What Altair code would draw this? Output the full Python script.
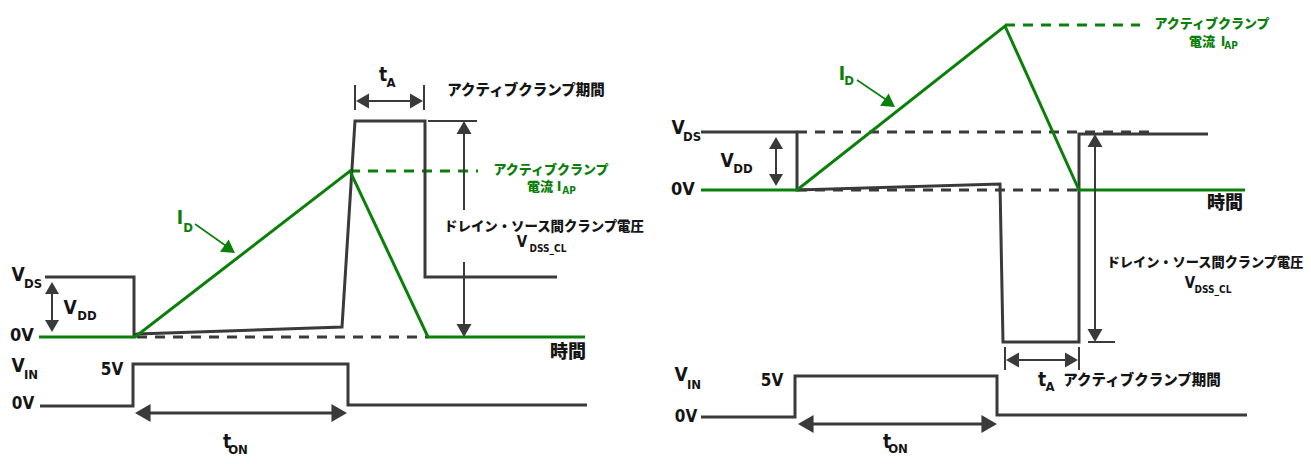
import math
import altair as alt
import pandas as pd

GREEN = "#0a800a"
DARK = "#3a3a3a"
INK = "#151515"

# ---------------- waveform vertices (time, level) ----------------
# left panel
left_id_t = [39, 135, 350, 428, 585]
left_id_v = [337, 337, 171, 337, 337]
left_iap_t = [350, 478]
left_iap_v = [171, 171]
left_vds_t = [45, 134, 134, 137, 342, 355, 425, 425, 557]
left_vds_v = [277, 277, 336, 334, 327, 121, 121, 277, 277]
left_zero_t = [137, 428]
left_zero_v = [337, 337]
left_vin_t = [40, 133, 133, 348, 348, 587]
left_vin_v = [406, 406, 364, 364, 405, 405]

# right panel
right_id_t = [701, 797, 1005, 1079, 1245]
right_id_v = [190, 190, 26, 190, 190]
right_iap_t = [1005, 1140]
right_iap_v = [25, 25]
right_vds_t = [701, 797, 797, 1000, 1003, 1079, 1079, 1208]
right_vds_v = [132, 132, 190, 184, 342, 342, 134, 134]
right_zero_t = [797, 1079]
right_zero_v = [190, 190]
right_top_t = [797, 1156]
right_top_v = [132, 132]
right_vin_t = [701, 795, 795, 997, 997, 1247]
right_vin_v = [417, 417, 376, 376, 415, 415]

# thin guide / dimension lines: (t0, v0, t1, v1)
thin_lines = [
    (428, 121, 477, 121), (464, 134, 464, 210), (464, 262, 464, 324),
    (355, 85, 355, 110), (424, 85, 424, 110), (368, 101, 411, 101),
    (52, 292, 52, 322),
    (1095, 146, 1095, 330), (1088, 342, 1115, 342),
    (1005, 347, 1005, 370), (1079, 347, 1079, 370), (1018, 360, 1066, 360),
    (776, 147, 776, 176),
]
thick_lines = [(150, 413, 332, 413), (813, 424, 982, 424)]
green_arrow_lines = [(195, 224, 229, 248), (857, 80, 888, 101)]

# arrow heads: tip t, tip v, direction angle (deg clockwise from up), width, colour
head_t = [464, 464, 356, 423, 52, 52, 235, 135, 347,
          1095, 1095, 1006, 1078, 776, 776, 895, 798, 997]
head_v = [121, 337, 101, 101, 282, 332, 253, 413, 413,
          134, 342, 360, 360, 137, 186, 107, 424, 424]
head_ang = [0, 180, 270, 90, 0, 180, 125, 270, 90,
            0, 180, 270, 90, 0, 180, 125, 270, 90]
head_w = [15, 15, 15, 15, 14, 14, 15, 18, 18,
          15, 15, 15, 15, 14, 14, 15, 18, 18]
head_col = [DARK] * 6 + [GREEN] + [DARK] * 2 + [DARK] * 6 + [GREEN] + [DARK] * 2

# Latin labels
lat_text = ["V", "DS", "0V", "V", "DD", "t", "A", "I", "D", "V", "DSS_CL", "I", "AP",
            "V", "IN", "5V", "0V", "t", "ON",
            "V", "DS", "0V", "V", "DD", "I", "D", "V", "DSS_CL", "t", "A", "I", "AP",
            "V", "IN", "5V", "0V", "t", "ON"]
lat_t = [18, 33, 22, 70, 87, 383, 391, 180, 188, 522, 548, 559, 569,
         18, 31, 112, 23, 227, 238,
         678, 692, 683, 727, 743, 842, 849, 1190, 1213, 1042, 1050, 1223, 1231,
         681, 694, 772, 686, 887, 898]
lat_v = [275, 284, 336, 308, 316, 75, 83, 218, 228, 242, 249, 187, 191,
         366, 375, 370, 404, 442, 450,
         128, 137, 190, 161, 169, 74, 81, 283, 290, 380, 387, 42, 46,
         375, 385, 381, 417, 442, 449]
lat_size = [19, 13, 18, 19, 13, 19, 13, 19, 13, 15, 10, 14, 10,
            19, 13, 17, 17, 19, 13,
            19, 13, 18, 19, 13, 19, 13, 15, 10, 19, 13, 14, 10,
            19, 13, 17, 17, 19, 13]
lat_col = [INK] * 7 + [GREEN, GREEN] + [INK, INK] + [GREEN, GREEN] + [INK] * 6 \
    + [INK] * 5 + [GREEN, GREEN] + [INK] * 4 + [GREEN, GREEN] + [INK] * 6

# Japanese labels
jp_text = ["アクティブクランプ期間", "アクティブクランプ", "電流", "ドレイン・ソース間クランプ電圧", "時間",
           "アクティブクランプ期間", "アクティブクランプ", "電流", "ドレイン・ソース間クランプ電圧", "時間"]
jp_t = [526, 551, 540, 544, 568, 1142, 1212, 1202, 1205, 1225]
jp_v = [91, 170, 187, 227, 353, 381, 24, 42, 263, 204]
jp_size = [14.5, 13, 13, 13.4, 18, 14.5, 13, 13, 13.2, 18]
jp_col = [INK, GREEN, GREEN, INK, INK, INK, GREEN, GREEN, INK, INK]


def poly(name, ts, vs):
    return [{"grp": name, "o": i, "t": t, "v": v} for i, (t, v) in enumerate(zip(ts, vs))]


def segs(name, lines):
    rows = []
    for k, (a, b, c, d) in enumerate(lines):
        rows += poly(f"{name}{k}", [a, c], [b, d])
    return rows


X = alt.X("t:Q", scale=alt.Scale(domain=[8, 1303], nice=False, zero=False), axis=None)
Y = alt.Y("v:Q", scale=alt.Scale(domain=[8, 456], reverse=True, nice=False, zero=False), axis=None)


def line_layer(rows, color, width, dash=None):
    kw = dict(color=color, strokeWidth=width, strokeJoin="miter", strokeCap="butt")
    if dash:
        kw["strokeDash"] = dash
    return alt.Chart(pd.DataFrame(rows)).mark_line(**kw).encode(
        x=X, y=Y, detail="grp:N", order="o:Q")


green_solid = line_layer(poly("lid", left_id_t, left_id_v) + poly("rid", right_id_t, right_id_v), GREEN, 3)
green_dash = line_layer(poly("liap", left_iap_t, left_iap_v) + poly("riap", right_iap_t, right_iap_v),
                        GREEN, 3, [10, 8])
dark_solid = line_layer(poly("lvds", left_vds_t, left_vds_v) + poly("rvds", right_vds_t, right_vds_v)
                        + poly("lvin", left_vin_t, left_vin_v) + poly("rvin", right_vin_t, right_vin_v),
                        DARK, 3)
dark_dash = line_layer(poly("lz", left_zero_t, left_zero_v) + poly("rz", right_zero_t, right_zero_v)
                       + poly("rt", right_top_t, right_top_v), DARK, 3, [10, 8])
thin = line_layer(segs("th", thin_lines), DARK, 2)
thick = line_layer(segs("tk", thick_lines), DARK, 3)
green_thin = line_layer(segs("ga", green_arrow_lines), GREEN, 1.6)

# arrow heads: place triangle centre half a height behind the tip
hrows = []
for t, v, a, w, c in zip(head_t, head_v, head_ang, head_w, head_col):
    h = 0.4330127 * w
    dx, dy = math.sin(math.radians(a)), -math.cos(math.radians(a))
    hrows.append({"t": t - h * dx, "v": v - h * dy, "ang": a, "sz": w * w, "col": c})
heads = alt.Chart(pd.DataFrame(hrows)).mark_point(filled=True, opacity=1, strokeWidth=0).encode(
    x=X, y=Y, shape=alt.value("triangle-up"),
    angle=alt.Angle("ang:Q", scale=None),
    size=alt.Size("sz:Q", scale=None),
    color=alt.Color("col:N", scale=None))

lat_df = pd.DataFrame({"t": lat_t, "v": lat_v, "txt": lat_text, "fs": lat_size, "col": lat_col})
lat = alt.Chart(lat_df).mark_text(
    font="Liberation Sans Narrow, DejaVu Sans Condensed, Arial Narrow, sans-serif",
    fontWeight="bold", align="center", baseline="middle").encode(
    x=X, y=Y, text="txt:N", size=alt.Size("fs:Q", scale=None), color=alt.Color("col:N", scale=None))

jp_df = pd.DataFrame({"t": jp_t, "v": jp_v, "txt": jp_text, "fs": jp_size, "col": jp_col})
jp = alt.Chart(jp_df).mark_text(
    font="Noto Sans CJK JP", fontWeight=900, align="center", baseline="middle").encode(
    x=X, y=Y, text="txt:N", size=alt.Size("fs:Q", scale=None), color=alt.Color("col:N", scale=None))

chart = alt.layer(dark_dash, green_dash, dark_solid, green_solid, thin, thick, green_thin, heads, lat, jp).properties(
    width=1295, height=448, padding=0, autosize=alt.AutoSizeParams(type="none"),
    background="white").configure_view(stroke=None)

chart.save("out.html", embed_options={"renderer": "svg", "actions": False})
